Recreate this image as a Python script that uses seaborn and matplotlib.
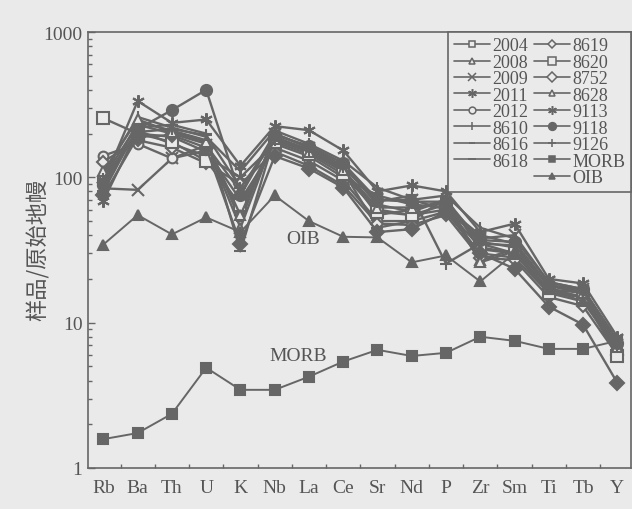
import numpy as np
import pandas as pd
import matplotlib
matplotlib.use("Agg")
import matplotlib.pyplot as plt
import seaborn as sns
from matplotlib.lines import Line2D
from matplotlib.ticker import LogLocator, NullFormatter, FixedLocator

sns.set_theme(style="white")
plt.rcParams['font.family'] = ['Liberation Serif', 'Noto Sans CJK SC', 'DejaVu Sans']

elements = ["Rb", "Ba", "Th", "U", "K", "Nb", "La", "Ce", "Sr", "Nd", "P", "Zr", "Sm", "Ti", "Tb", "Y"]

s2004 = [95, 200, 190, 150, 60, 180, 150, 110, 60, 55, 65, 35, 30, 17, 15, 6.5]
s2008 = [100, 230, 200, 170, 45, 190, 155, 115, 55, 60, 70, 27, 32, 18, 16, 7.0]
s2009 = [84, 82, 135, 166, 80, 200, 160, 120, 70, 70, 60, 38, 40, 19, 17, 7.6]
s2011 = [69, 210, 170, 140, 100, 170, 140, 100, 75, 65, 62, 40, 35, 18, 17, 7.5]
s2012 = [141, 170, 135, 153, 70, 160, 130, 95, 50, 50, 58, 30, 28, 16, 14, 6.5]
s8610 = [105, 260, 220, 190, 110, 210, 170, 130, 85, 70, 75, 45, 38, 19, 17, 7.2]
s8616 = [85, 240, 210, 180, 50, 200, 160, 120, 65, 58, 70, 36, 33, 18, 16, 6.8]
s8618 = [80, 220, 230, 200, 31, 190, 150, 110, 45, 50, 72, 32, 30, 17, 15, 6.2]
s8619 = [128, 180, 160, 125, 90, 150, 120, 88, 48, 47, 55, 28, 27, 15, 13, 6.0]
s8620 = [255, 200, 175, 130, 65, 175, 145, 105, 58, 55, 60, 33, 30, 16, 15, 5.9]
s8752 = [75, 190, 195, 160, 35, 140, 115, 85, 42, 44, 58, 30, 23.5, 12.9, 9.7, 3.86]
s8628 = [110, 250, 205, 175, 55, 185, 150, 112, 62, 62, 66, 26, 31, 17, 16, 6.8]
s9113 = [92, 335, 237, 250, 120, 225, 211, 153, 80, 88, 80, 42, 48, 20, 18.6, 8.0]
s9118 = [88, 215, 290, 400, 75, 195, 165, 125, 70, 68, 68, 37, 36, 18, 17, 7.2]
s9126 = [98, 205, 215, 195, 85, 180, 155, 118, 68, 75, 25.5, 35, 34, 18, 16.5, 7.0]
morb = [1.58, 1.74, 2.36, 4.9, 3.45, 3.45, 4.25, 5.4, 6.5, 5.9, 6.2, 8.0, 7.5, 6.6, 6.6, 7.5]
oib = [34.5, 55, 40.5, 53, 42, 75, 50, 39, 38.6, 26, 29, 19.2, 30, 17, 14, 7.5]

series_names = ["2004", "2008", "2009", "2011", "2012", "8610", "8616", "8618",
                "8619", "8620", "8752", "8628", "9113", "9118", "9126", "MORB", "OIB"]
series_vals = [s2004, s2008, s2009, s2011, s2012, s8610, s8616, s8618,
               s8619, s8620, s8752, s8628, s9113, s9118, s9126, morb, oib]

BG = "#eaeaea"
LC = "#666666"
TC = "#555555"

ast = (6, 2, 0)
styles = {
    "2004": dict(marker="s", ms=7, mfc=BG),
    "2008": dict(marker="^", ms=7, mfc=BG),
    "2009": dict(marker="x", ms=8, mfc=LC),
    "2011": dict(marker=ast, ms=9, mfc=LC),
    "2012": dict(marker="o", ms=7, mfc=BG),
    "8610": dict(marker="|", ms=9, mfc=LC),
    "8616": dict(marker="_", ms=6, mfc=LC),
    "8618": dict(marker="_", ms=9, mfc=LC),
    "8619": dict(marker="D", ms=6, mfc=BG),
    "8620": dict(marker="s", ms=8, mfc=BG),
    "8752": dict(marker="D", ms=7, mfc=LC),
    "8628": dict(marker="^", ms=7, mfc=BG),
    "9113": dict(marker=ast, ms=9, mfc=LC),
    "9118": dict(marker="o", ms=8, mfc=LC),
    "9126": dict(marker="+", ms=9, mfc=LC),
    "MORB": dict(marker="s", ms=7, mfc=LC),
    "OIB": dict(marker="^", ms=7, mfc=LC),
}

rows = []
for name, vals in zip(series_names, series_vals):
    for i, (el, v) in enumerate(zip(elements, vals)):
        rows.append({"series": name, "pos": i, "element": el, "value": v})
df = pd.DataFrame(rows)

fig = plt.figure(figsize=(6.32, 5.10), dpi=100, facecolor=BG)
ax = fig.add_axes([88/632, 41/510, 543/632, 436/510])
ax.set_facecolor(BG)

for name in series_names:
    st = styles[name]
    sub = df[df["series"] == name]
    lw = 1.4 if name in ("MORB", "OIB") else 1.7
    sns.lineplot(data=sub, x="pos", y="value", ax=ax, color=LC, linewidth=lw,
                 marker=st["marker"], markersize=st["ms"], markerfacecolor=st["mfc"],
                 markeredgecolor=LC, markeredgewidth=1.5, legend=False,
                 estimator=None, sort=False)

ax.set_yscale("log")
ax.set_ylim(1, 1000)
ax.set_xlim(-0.45, 15.4)

ax.xaxis.set_major_locator(FixedLocator(range(len(elements))))
ax.set_xticklabels(elements)
ax.xaxis.set_minor_locator(FixedLocator(np.arange(0.5, 15.0, 1.0)))
ax.tick_params(axis="x", which="major", length=0, pad=8, labelsize=14, labelcolor=TC)
ax.tick_params(axis="x", which="minor", direction="in", length=3, color=LC, width=1, bottom=True)

ax.yaxis.set_major_locator(FixedLocator([1, 10, 100, 1000]))
ax.set_yticklabels(["1", "10", "100", "1000"])
ax.yaxis.set_minor_locator(LogLocator(base=10, subs=np.arange(2, 10)))
ax.yaxis.set_minor_formatter(NullFormatter())
ax.tick_params(axis="y", which="major", direction="in", length=5, color=LC, width=1,
               left=True, labelsize=14, labelcolor=TC, pad=4)
ax.tick_params(axis="y", which="minor", direction="in", length=3, color=LC, width=1, left=True)

for sp in ax.spines.values():
    sp.set_color(LC)
    sp.set_linewidth(1.2)

ax.set_xlabel("")
ax.set_ylabel("样品/原始地幔", fontsize=16, color=TC,
              family=['Noto Sans CJK SC', 'DejaVu Sans'])
ax.yaxis.set_label_coords(-0.07, 0.502)

ax.text(5.83, 38, "OIB", fontsize=14, color=TC, ha="center", va="center")
ax.text(5.68, 5.9, "MORB", fontsize=14, color=TC, ha="center", va="center")

handles = []
labels = []
for name in series_names:
    st = styles[name]
    mfc = BG if name == "8752" else st["mfc"]
    handles.append(Line2D([], [], color=LC, linewidth=1.2, marker=st["marker"],
                          markersize=st["ms"] * 0.7, markerfacecolor=mfc,
                          markeredgecolor=LC, markeredgewidth=1.1))
    labels.append(name)
    if name == "8618":
        handles.append(Line2D([], [], linestyle="none"))
        labels.append("")

leg = ax.legend(handles, labels, ncol=2, loc="upper right", bbox_to_anchor=(1.0, 1.0),
                fontsize=13, frameon=True, fancybox=False, framealpha=1,
                facecolor=BG, edgecolor=LC, labelspacing=-0.03, handlelength=2.0,
                handletextpad=0.15, columnspacing=0.3, borderpad=0.3, borderaxespad=0.0,
                labelcolor=TC)
leg.get_frame().set_linewidth(1.2)

fig.savefig("out.png", dpi=100, facecolor=BG)
